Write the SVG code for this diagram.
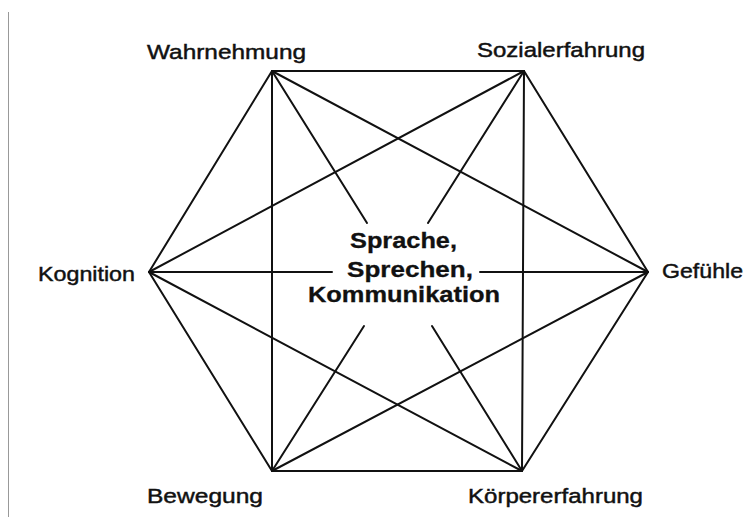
<svg xmlns="http://www.w3.org/2000/svg" width="749" height="517" viewBox="0 0 749 517">
<style>
.lbl{font-family:"Liberation Sans",Arial,sans-serif;font-size:20.5px;fill:#111;stroke:#111;stroke-width:0.45px;}
.ctr{font-family:"Liberation Sans",Arial,sans-serif;font-size:21.5px;font-weight:bold;fill:#111;stroke:#111;stroke-width:0.3px;}
.ln{stroke:#111;stroke-width:2;fill:none;stroke-linecap:round;}
</style>
<rect width="749" height="517" fill="#fff"/>
<line x1="8.5" y1="12" x2="8.5" y2="517" stroke="#999" stroke-width="1"/>
<g id="connectors" class="ln">
<line x1="272" y1="71" x2="524" y2="71"/>
<line x1="524" y1="71" x2="648" y2="272"/>
<line x1="648" y1="272" x2="522" y2="471"/>
<line x1="522" y1="471" x2="272" y2="471"/>
<line x1="272" y1="471" x2="149" y2="272"/>
<line x1="149" y1="272" x2="272" y2="71"/>
<line x1="272" y1="71" x2="648" y2="272"/>
<line x1="524" y1="71" x2="522" y2="471"/>
<line x1="648" y1="272" x2="272" y2="471"/>
<line x1="522" y1="471" x2="149" y2="272"/>
<line x1="272" y1="471" x2="272" y2="71"/>
<line x1="149" y1="272" x2="524" y2="71"/>
<line x1="272" y1="71" x2="367" y2="223"/>
<line x1="432" y1="326" x2="522" y2="471"/>
<line x1="524" y1="71" x2="428" y2="223"/>
<line x1="364" y1="326" x2="272" y2="471"/>
<line x1="149" y1="272" x2="332" y2="272"/>
<line x1="480" y1="272" x2="648" y2="272"/>
</g>
<g id="wahrnehmung"><text class="lbl" x="147" y="59" textLength="159" lengthAdjust="spacingAndGlyphs">Wahrnehmung</text></g>
<g id="sozialerfahrung"><text class="lbl" x="477" y="57" textLength="168" lengthAdjust="spacingAndGlyphs">Sozialerfahrung</text></g>
<g id="kognition"><text class="lbl" x="38" y="281" textLength="97" lengthAdjust="spacingAndGlyphs">Kognition</text></g>
<g id="gefuehle"><text class="lbl" x="662" y="278" textLength="81" lengthAdjust="spacingAndGlyphs">Gefühle</text></g>
<g id="bewegung"><text class="lbl" x="147" y="503" textLength="116" lengthAdjust="spacingAndGlyphs">Bewegung</text></g>
<g id="koerpererfahrung"><text class="lbl" x="468" y="503" textLength="175" lengthAdjust="spacingAndGlyphs">Körpererfahrung</text></g>
<g id="center">
<text class="ctr" x="350" y="248" textLength="107" lengthAdjust="spacingAndGlyphs">Sprache,</text>
<text class="ctr" x="347" y="277" textLength="126" lengthAdjust="spacingAndGlyphs">Sprechen,</text>
<text class="ctr" x="308" y="302" textLength="192" lengthAdjust="spacingAndGlyphs">Kommunikation</text>
</g>
</svg>
